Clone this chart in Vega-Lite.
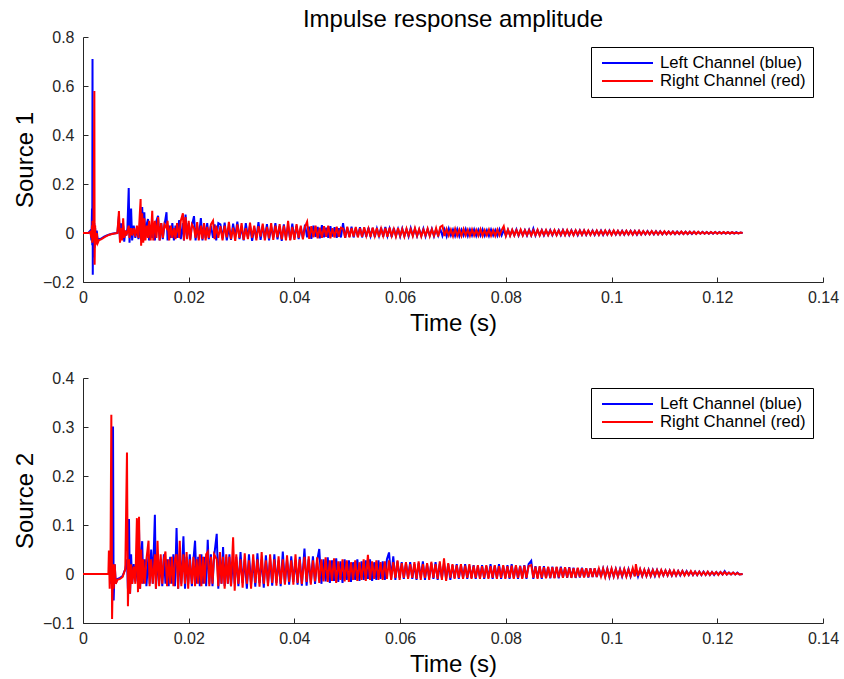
{
  "$schema": "https://vega.github.io/schema/vega-lite/v6.json",
  "background": "white",
  "padding": {"left": 13, "top": 8, "right": 5, "bottom": 5},
  "config": {
    "font": "Liberation Sans",
    "view": {"stroke": null},
    "axis": {
      "domainColor": "#262626",
      "tickColor": "#262626",
      "labelColor": "#262626",
      "titleColor": "#000000",
      "labelFontSize": 16,
      "titleFontSize": 24,
      "titleFontWeight": "normal",
      "grid": false,
      "tickSize": -5,
      "labelFlush": false,
      "format": "~g",
      "domainWidth": 1,
      "tickWidth": 1
    },
    "axisX": {"labelPadding": 12, "titlePadding": 6},
    "axisY": {"labelPadding": 14, "titlePadding": 5},
    "legend": {
      "orient": "none",
      "legendX": 508,
      "legendY": 10,
      "strokeColor": "#000000",
      "fillColor": "#ffffff",
      "padding": 7,
      "symbolType": "stroke",
      "symbolSize": 2601,
      "symbolStrokeWidth": 2,
      "symbolOffset": 3,
      "clipHeight": 18,
      "labelFontSize": 16.7,
      "labelColor": "#000000",
      "labelOffset": 6,
      "rowPadding": 0,
      "title": null
    }
  },
  "datasets": {
    "s1": [
      {"t":0,"L":0,"R":0},{"t":0.001,"L":0,"R":0},{"t":0.0014,"L":0.01,"R":0.005},{"t":0.0016,"L":-0.03,"R":-0.02},{"t":0.0017,"L":0.1,"R":0.03},{"t":0.00175,"L":-0.05,"R":-0.04},{"t":0.0018,"L":0.71,"R":0.05},{"t":0.00185,"L":-0.17,"R":0.02},{"t":0.0019,"L":0.05,"R":-0.03},{"t":0.002,"L":-0.1,"R":0.04},{"t":0.00215,"L":0.04,"R":0.58},{"t":0.0022,"L":-0.06,"R":-0.13},{"t":0.0023,"L":0.02,"R":0.03},{"t":0.0024,"L":-0.04,"R":-0.05},{"t":0.0026,"L":0.01,"R":0},{"t":0.0028,"L":-0.03,"R":-0.04},{"t":0.003,"L":-0.025,"R":-0.03},{"t":0.0035,"L":-0.022,"R":-0.025},{"t":0.004,"L":-0.015,"R":-0.018},{"t":0.0045,"L":-0.01,"R":-0.012},{"t":0.005,"L":-0.006,"R":-0.007},{"t":0.0055,"L":-0.003,"R":-0.004},{"t":0.006,"L":-0.001,"R":-0.002},{"t":0.0065,"L":0,"R":0},
      {"t":0.0068,"L":0.07,"R":0.09},{"t":0.007,"L":-0.03,"R":-0.04},{"t":0.0072,"L":0.04,"R":0.02},{"t":0.0074,"L":-0.02,"R":-0.03},{"t":0.0076,"L":0.03,"R":0.06},{"t":0.0078,"L":-0.035,"R":-0.02},{"t":0.008,"L":0.01,"R":0.01},{"t":0.0082,"L":-0.01,"R":-0.01},{"t":0.0084,"L":0.02,"R":0.005},{"t":0.00865,"L":0.184,"R":0.03},{"t":0.0088,"L":-0.04,"R":-0.02},{"t":0.0091,"L":0.1,"R":0.02},{"t":0.0093,"L":-0.03,"R":-0.01},{"t":0.0096,"L":0.03,"R":0.02},{"t":0.0099,"L":-0.02,"R":-0.015},{"t":0.0102,"L":0.02,"R":0.03},{"t":0.0105,"L":-0.025,"R":-0.02},{"t":0.0109,"L":0.03,"R":0.139},{"t":0.011,"L":-0.03,"R":-0.052},{"t":0.0112,"L":0.106,"R":0.08},{"t":0.0114,"L":-0.03,"R":-0.04},{"t":0.0116,"L":0.085,"R":0.06},{"t":0.0118,"L":-0.02,"R":-0.03},{"t":0.0121,"L":0.04,"R":0.03},{"t":0.0123,"L":0.057,"R":-0.02},{"t":0.0125,"L":-0.03,"R":0.05},{"t":0.0128,"L":0.03,"R":-0.03},{"t":0.0131,"L":-0.02,"R":0.091},{"t":0.0133,"L":0.04,"R":-0.03},{"t":0.0136,"L":-0.03,"R":0.05},{"t":0.0139,"L":0.05,"R":-0.02},{"t":0.0142,"L":0.07,"R":0.065},{"t":0.0145,"L":-0.03,"R":-0.03},{"t":0.0148,"L":0.04,"R":0.04},{"t":0.0151,"L":-0.025,"R":-0.02},{"t":0.0154,"L":0.03,"R":0.035},{"t":0.0158,"L":0.085,"R":0.02},{"t":0.016,"L":-0.03,"R":0.05},{"t":0.0163,"L":0.03,"R":-0.03},{"t":0.0166,"L":-0.02,"R":0.03},{"t":0.0169,"L":0.04,"R":-0.02},{"t":0.0172,"L":-0.03,"R":0.02},{"t":0.0175,"L":0.03,"R":-0.025},{"t":0.0178,"L":-0.02,"R":0.04},{"t":0.0182,"L":0.053,"R":-0.02},{"t":0.0185,"L":-0.025,"R":0.05},{"t":0.0189,"L":0.04,"R":0.08},{"t":0.0191,"L":-0.03,"R":-0.03},{"t":0.0194,"L":0.075,"R":0.065},{"t":0.0197,"L":-0.02,"R":-0.025},{"t":0.02,"L":0.04,"R":0.05},{"t":0.0203,"L":-0.025,"R":-0.03},{"t":0.0206,"L":0.03,"R":0.035},{"t":0.021,"L":0.069,"R":0.02},{"t":0.0213,"L":-0.03,"R":-0.02},{"t":0.0216,"L":0.03,"R":0.045},{"t":0.0219,"L":-0.02,"R":-0.03},{"t":0.0223,"L":0.061,"R":0.03},{"t":0.0226,"L":-0.03,"R":-0.025},{"t":0.0229,"L":0.035,"R":0.04},{"t":0.0232,"L":-0.02,"R":-0.03},{"t":0.0235,"L":0.04,"R":0.025},{"t":0.0238,"L":-0.025,"R":-0.02},{"t":0.0242,"L":0.03,"R":0.035},{"t":0.0246,"L":-0.02,"R":0.05},{"t":0.0249,"L":0.035,"R":-0.025},{"t":0.0252,"L":-0.03,"R":0.03},{"t":0.0256,"L":0.04,"R":-0.02},
      {"t":0.026,"L":0.035,"R":0.028},{"t":0.0264,"L":-0.022,"R":-0.03},{"t":0.0268,"L":0.042,"R":0.03},{"t":0.0272,"L":-0.03,"R":-0.018},{"t":0.0276,"L":0.02,"R":0.045},{"t":0.028,"L":-0.028,"R":-0.025},{"t":0.0284,"L":0.038,"R":0.022},{"t":0.0288,"L":-0.015,"R":-0.032},{"t":0.0292,"L":0.046,"R":0.035},{"t":0.0296,"L":-0.025,"R":-0.02},{"t":0.03,"L":0.025,"R":0.04},{"t":0.0304,"L":-0.03,"R":-0.028},{"t":0.0308,"L":0.04,"R":0.02},{"t":0.0312,"L":-0.018,"R":-0.025},{"t":0.0316,"L":0.03,"R":0.042},{"t":0.032,"L":-0.032,"R":-0.02},{"t":0.0324,"L":0.022,"R":0.03},{"t":0.0328,"L":-0.02,"R":-0.03},{"t":0.0332,"L":0.044,"R":0.028},{"t":0.0336,"L":-0.028,"R":-0.015},{"t":0.034,"L":0.03,"R":0.038},{"t":0.0344,"L":-0.02,"R":-0.03},{"t":0.0348,"L":0.036,"R":0.025},{"t":0.0352,"L":-0.03,"R":-0.022},{"t":0.0356,"L":0.025,"R":0.04},{"t":0.036,"L":-0.018,"R":-0.028},{"t":0.0364,"L":0.04,"R":0.03},{"t":0.0368,"L":-0.026,"R":-0.018},{"t":0.0372,"L":0.028,"R":0.036},{"t":0.0376,"L":-0.032,"R":-0.026},{"t":0.038,"L":0.035,"R":0.03},{"t":0.0384,"L":-0.02,"R":-0.03},{"t":0.0388,"L":0.03,"R":0.05},{"t":0.0392,"L":-0.028,"R":-0.03},{"t":0.0396,"L":0.038,"R":0.025},{"t":0.04,"L":-0.022,"R":-0.028},
      {"t":0.0404,"L":0.03,"R":0.036},{"t":0.0408,"L":-0.025,"R":-0.02},{"t":0.0412,"L":0.022,"R":0.03},{"t":0.0416,"L":-0.02,"R":-0.026},{"t":0.042,"L":0.034,"R":0.025},{"t":0.0424,"L":-0.018,"R":0.046},{"t":0.0428,"L":0.026,"R":-0.024},{"t":0.0432,"L":-0.024,"R":0.028},{"t":0.0436,"L":0.03,"R":-0.018},{"t":0.044,"L":-0.016,"R":0.03},{"t":0.0444,"L":0.025,"R":-0.022},{"t":0.0448,"L":-0.022,"R":0.022},{"t":0.0452,"L":0.032,"R":-0.02},{"t":0.0456,"L":-0.018,"R":0.028},{"t":0.046,"L":0.022,"R":-0.016},{"t":0.0464,"L":-0.02,"R":0.03},{"t":0.0468,"L":0.028,"R":-0.022},{"t":0.0472,"L":-0.015,"R":0.02},{"t":0.0476,"L":0.024,"R":-0.018},{"t":0.048,"L":-0.02,"R":0.026},{"t":0.0484,"L":0.02,"R":-0.015},{"t":0.0488,"L":-0.018,"R":0.022},{"t":0.0492,"L":0.04,"R":0.018},{"t":0.0496,"L":-0.02,"R":-0.02},{"t":0.05,"L":0.022,"R":0.026},{"t":0.0504,"L":-0.015,"R":-0.018},{"t":0.0508,"L":0.026,"R":0.02},{"t":0.0512,"L":-0.018,"R":-0.014},{"t":0.0516,"L":0.02,"R":0.025},{"t":0.052,"L":-0.014,"R":-0.018},{"t":0.0524,"L":0.024,"R":0.02},{"t":0.0528,"L":-0.018,"R":-0.015},{"t":0.0532,"L":0.018,"R":0.024},{"t":0.0536,"L":-0.015,"R":-0.012},{"t":0.054,"L":0.022,"R":0.018},{"t":0.0544,"L":-0.012,"R":-0.016},{"t":0.0548,"L":0.02,"R":0.022},{"t":0.0552,"L":-0.016,"R":-0.012},{"t":0.0556,"L":0.018,"R":0.02},{"t":0.056,"L":-0.012,"R":-0.016},{"t":0.0564,"L":0.022,"R":0.018},{"t":0.0568,"L":-0.015,"R":-0.012},{"t":0.0572,"L":0.025,"R":0.02},{"t":0.0576,"L":-0.012,"R":-0.015},{"t":0.058,"L":0.018,"R":0.022},{"t":0.0584,"L":-0.016,"R":-0.012},{"t":0.0588,"L":0.02,"R":0.016},{"t":0.0592,"L":-0.012,"R":-0.015},{"t":0.0596,"L":0.016,"R":0.02},{"t":0.06,"L":-0.014,"R":-0.012},
      {"t":0.0604,"L":0.018,"R":0.016},{"t":0.0608,"L":-0.012,"R":-0.014},{"t":0.0612,"L":0.015,"R":0.018},{"t":0.0616,"L":-0.014,"R":-0.01},{"t":0.062,"L":0.02,"R":0.015},{"t":0.0624,"L":-0.01,"R":-0.013},{"t":0.0628,"L":0.016,"R":0.02},{"t":0.0632,"L":-0.013,"R":-0.011},{"t":0.0636,"L":0.014,"R":0.016},{"t":0.064,"L":-0.011,"R":-0.014},{"t":0.0644,"L":0.018,"R":0.014},{"t":0.0648,"L":-0.014,"R":-0.01},{"t":0.0652,"L":0.015,"R":0.018},{"t":0.0656,"L":-0.01,"R":-0.013},{"t":0.066,"L":0.017,"R":0.015},{"t":0.0664,"L":-0.013,"R":-0.011},{"t":0.0668,"L":0.014,"R":0.02},{"t":0.0672,"L":-0.011,"R":-0.014},{"t":0.0676,"L":0.016,"R":0.025},{"t":0.068,"L":-0.012,"R":0.03},{"t":0.0684,"L":0.015,"R":-0.012},{"t":0.0688,"L":-0.014,"R":0.016},{"t":0.0692,"L":0.018,"R":-0.01},{"t":0.0696,"L":-0.01,"R":0.014},{"t":0.07,"L":0.014,"R":-0.013},{"t":0.0704,"L":-0.012,"R":0.017},{"t":0.0708,"L":0.016,"R":-0.011},{"t":0.0712,"L":-0.013,"R":0.014},{"t":0.0716,"L":0.013,"R":-0.012},{"t":0.072,"L":-0.01,"R":0.016},{"t":0.0724,"L":0.016,"R":-0.01},{"t":0.0728,"L":-0.012,"R":0.013},{"t":0.0732,"L":0.014,"R":-0.012},{"t":0.0736,"L":-0.01,"R":0.015},{"t":0.074,"L":0.015,"R":-0.01},{"t":0.0744,"L":-0.012,"R":0.013},{"t":0.0748,"L":0.013,"R":-0.011},{"t":0.0752,"L":-0.01,"R":0.015},{"t":0.0756,"L":0.015,"R":-0.012},{"t":0.076,"L":-0.011,"R":0.012},{"t":0.0764,"L":0.012,"R":-0.01},{"t":0.0768,"L":-0.012,"R":0.014},{"t":0.0772,"L":0.014,"R":-0.011},{"t":0.0776,"L":-0.01,"R":0.012},{"t":0.078,"L":0.012,"R":-0.012},{"t":0.0784,"L":-0.011,"R":0.014},{"t":0.0788,"L":0.015,"R":-0.01},{"t":0.0792,"L":-0.01,"R":0.012},{"t":0.0796,"L":0.012,"R":0.028},{"t":0.08,"L":-0.011,"R":-0.012},
      {"t":0.0804,"L":0.013,"R":0.014},{"t":0.0808,"L":-0.01,"R":-0.011},{"t":0.0812,"L":0.012,"R":0.013},{"t":0.0816,"L":-0.009,"R":-0.01},{"t":0.082,"L":0.014,"R":0.012},{"t":0.0824,"L":-0.011,"R":-0.009},{"t":0.0828,"L":0.011,"R":0.014},{"t":0.0832,"L":-0.009,"R":-0.01},{"t":0.0836,"L":0.012,"R":0.011},{"t":0.084,"L":-0.01,"R":-0.009},{"t":0.0844,"L":0.013,"R":0.012},{"t":0.0848,"L":-0.009,"R":-0.01},{"t":0.0852,"L":0.018,"R":0.011},{"t":0.0856,"L":-0.01,"R":-0.009},{"t":0.086,"L":0.011,"R":0.013},{"t":0.0864,"L":-0.008,"R":-0.01},{"t":0.0868,"L":0.012,"R":0.011},{"t":0.0872,"L":-0.01,"R":-0.008},{"t":0.0876,"L":0.01,"R":0.012},{"t":0.088,"L":-0.008,"R":-0.009},{"t":0.0884,"L":0.012,"R":0.01},{"t":0.0888,"L":-0.009,"R":-0.008},{"t":0.0892,"L":0.01,"R":0.012},{"t":0.0896,"L":-0.008,"R":-0.009},{"t":0.09,"L":0.011,"R":0.01},{"t":0.0904,"L":-0.009,"R":-0.008},{"t":0.0908,"L":0.012,"R":0.011},{"t":0.0912,"L":-0.008,"R":-0.009},{"t":0.0916,"L":0.01,"R":0.012},{"t":0.092,"L":-0.009,"R":-0.008},{"t":0.0924,"L":0.011,"R":0.01},{"t":0.0928,"L":-0.008,"R":-0.009},{"t":0.0932,"L":0.01,"R":0.011},{"t":0.0936,"L":-0.009,"R":-0.007},{"t":0.094,"L":0.011,"R":0.01},{"t":0.0944,"L":-0.007,"R":-0.008},{"t":0.0948,"L":0.01,"R":0.011},{"t":0.0952,"L":-0.008,"R":-0.007},{"t":0.0956,"L":0.009,"R":0.01},{"t":0.096,"L":-0.007,"R":-0.008},{"t":0.0964,"L":0.01,"R":0.009},{"t":0.0968,"L":-0.008,"R":-0.007},{"t":0.0972,"L":0.009,"R":0.01},{"t":0.0976,"L":-0.007,"R":-0.008},{"t":0.098,"L":0.01,"R":0.009},{"t":0.0984,"L":-0.008,"R":-0.007},{"t":0.0988,"L":0.009,"R":0.01},{"t":0.0992,"L":-0.007,"R":-0.007},{"t":0.0996,"L":0.01,"R":0.009},{"t":0.1,"L":-0.007,"R":-0.008},
      {"t":0.1004,"L":0.009,"R":0.01},{"t":0.1008,"L":-0.007,"R":-0.006},{"t":0.1012,"L":0.008,"R":0.009},{"t":0.1016,"L":-0.006,"R":-0.007},{"t":0.102,"L":0.009,"R":0.008},{"t":0.1024,"L":-0.007,"R":-0.006},{"t":0.1028,"L":0.008,"R":0.009},{"t":0.1032,"L":-0.006,"R":-0.006},{"t":0.1036,"L":0.009,"R":0.008},{"t":0.104,"L":-0.006,"R":-0.007},{"t":0.1044,"L":0.008,"R":0.008},{"t":0.1048,"L":-0.007,"R":-0.006},{"t":0.1052,"L":0.008,"R":0.009},{"t":0.1056,"L":-0.006,"R":-0.006},{"t":0.106,"L":0.007,"R":0.008},{"t":0.1064,"L":-0.006,"R":-0.005},{"t":0.1068,"L":0.008,"R":0.007},{"t":0.1072,"L":-0.005,"R":-0.006},{"t":0.1076,"L":0.007,"R":0.008},{"t":0.108,"L":-0.006,"R":-0.005},{"t":0.1084,"L":0.007,"R":0.007},{"t":0.1088,"L":-0.005,"R":-0.006},{"t":0.1092,"L":0.007,"R":0.006},{"t":0.1096,"L":-0.005,"R":-0.005},{"t":0.11,"L":0.006,"R":0.007},{"t":0.1104,"L":-0.005,"R":-0.005},{"t":0.1108,"L":0.006,"R":0.006},{"t":0.1112,"L":-0.004,"R":-0.005},{"t":0.1116,"L":0.006,"R":0.006},{"t":0.112,"L":-0.005,"R":-0.004},{"t":0.1124,"L":0.006,"R":0.005},{"t":0.1128,"L":-0.004,"R":-0.004},{"t":0.1132,"L":0.005,"R":0.006},{"t":0.1136,"L":-0.004,"R":-0.004},{"t":0.114,"L":0.005,"R":0.005},{"t":0.1144,"L":-0.004,"R":-0.004},{"t":0.1148,"L":0.005,"R":0.005},{"t":0.1152,"L":-0.004,"R":-0.003},{"t":0.1156,"L":0.005,"R":0.005},{"t":0.116,"L":-0.003,"R":-0.004},{"t":0.1164,"L":0.004,"R":0.005},{"t":0.1168,"L":-0.003,"R":-0.003},{"t":0.1172,"L":0.005,"R":0.004},{"t":0.1176,"L":-0.003,"R":-0.003},{"t":0.118,"L":0.004,"R":0.004},{"t":0.1184,"L":-0.003,"R":-0.003},{"t":0.1188,"L":0.004,"R":0.004},{"t":0.1192,"L":-0.003,"R":-0.002},{"t":0.1196,"L":0.004,"R":0.004},{"t":0.12,"L":-0.002,"R":-0.003},{"t":0.1204,"L":0.004,"R":0.003},{"t":0.1208,"L":-0.002,"R":-0.002},{"t":0.1212,"L":0.003,"R":0.004},{"t":0.1216,"L":-0.002,"R":-0.002},{"t":0.122,"L":0.003,"R":0.003},{"t":0.1224,"L":-0.002,"R":-0.002},{"t":0.1228,"L":0.003,"R":0.003},{"t":0.1232,"L":-0.002,"R":-0.002},{"t":0.1236,"L":0.003,"R":0.002},{"t":0.124,"L":-0.002,"R":-0.002},{"t":0.1244,"L":0.002,"R":0.002},{"t":0.1248,"L":0,"R":0}
    ],
    "s2": [
      {"t":0,"L":0,"R":0},{"t":0.0048,"L":0,"R":0},{"t":0.0049,"L":0,"R":0.048},{"t":0.00505,"L":0.01,"R":-0.03},{"t":0.0052,"L":-0.02,"R":0.03},{"t":0.00536,"L":0.02,"R":0.325},{"t":0.0055,"L":-0.03,"R":-0.092},{"t":0.00568,"L":0.301,"R":0.02},{"t":0.0058,"L":-0.054,"R":-0.03},{"t":0.006,"L":0.02,"R":0.02},{"t":0.0062,"L":-0.02,"R":-0.02},{"t":0.0065,"L":-0.01,"R":-0.012},{"t":0.007,"L":-0.008,"R":-0.01},{"t":0.0075,"L":-0.004,"R":-0.006},{"t":0.008,"L":0.01,"R":0.01},{"t":0.00832,"L":0.03,"R":0.248},{"t":0.0085,"L":-0.03,"R":-0.066},{"t":0.0087,"L":0.112,"R":0.03},{"t":0.0089,"L":-0.04,"R":-0.04},{"t":0.0091,"L":0.04,"R":0.02},{"t":0.0093,"L":-0.02,"R":-0.02},{"t":0.0096,"L":0.02,"R":0.015},{"t":0.0099,"L":-0.015,"R":-0.02},{"t":0.0102,"L":0.03,"R":0.114},{"t":0.0104,"L":-0.02,"R":-0.037},{"t":0.0106,"L":0.09,"R":0.117},{"t":0.0108,"L":-0.03,"R":-0.03},{"t":0.011,"L":0.04,"R":0.05},{"t":0.0112,"L":0.067,"R":-0.02},{"t":0.0114,"L":-0.02,"R":0.03},{"t":0.0117,"L":0.03,"R":-0.02},{"t":0.012,"L":-0.025,"R":0.03},{"t":0.0124,"L":0.04,"R":0.068},{"t":0.0126,"L":-0.02,"R":-0.025},{"t":0.0129,"L":0.05,"R":0.03},{"t":0.0132,"L":-0.02,"R":-0.02},{"t":0.0136,"L":0.121,"R":0.04},{"t":0.0138,"L":-0.03,"R":-0.03},{"t":0.0141,"L":0.04,"R":0.068},{"t":0.0144,"L":-0.02,"R":-0.025},{"t":0.0147,"L":0.03,"R":0.04},{"t":0.015,"L":-0.025,"R":-0.02},{"t":0.0153,"L":0.04,"R":0.03},{"t":0.0156,"L":-0.02,"R":0.046},{"t":0.0159,"L":0.03,"R":-0.025},{"t":0.0162,"L":-0.025,"R":0.03},{"t":0.0165,"L":0.035,"R":-0.02},{"t":0.0168,"L":-0.02,"R":0.035},{"t":0.0171,"L":0.04,"R":-0.025},{"t":0.0174,"L":-0.025,"R":0.03},{"t":0.0177,"L":0.094,"R":0.04},{"t":0.018,"L":-0.03,"R":-0.03},{"t":0.0183,"L":0.04,"R":0.068},{"t":0.0186,"L":-0.02,"R":-0.025},{"t":0.019,"L":0.077,"R":0.04},{"t":0.0193,"L":-0.03,"R":-0.02},{"t":0.0196,"L":0.035,"R":0.045},{"t":0.0199,"L":-0.02,"R":-0.03},{"t":0.0202,"L":0.04,"R":0.03},{"t":0.0206,"L":-0.025,"R":-0.02},{"t":0.0209,"L":0.03,"R":0.035},{"t":0.0212,"L":0.068,"R":-0.025},{"t":0.0215,"L":-0.02,"R":0.03},{"t":0.0218,"L":0.035,"R":-0.02},{"t":0.0221,"L":-0.025,"R":0.04},{"t":0.0224,"L":0.04,"R":-0.025},{"t":0.0227,"L":-0.02,"R":0.035},{"t":0.023,"L":0.035,"R":-0.02},{"t":0.0233,"L":-0.025,"R":0.04},{"t":0.0236,"L":0.07,"R":0.045},{"t":0.0239,"L":-0.02,"R":-0.025},{"t":0.0242,"L":0.04,"R":0.035},{"t":0.0245,"L":-0.025,"R":-0.02},{"t":0.0248,"L":0.035,"R":0.04},{"t":0.0253,"L":0.082,"R":0.03},{"t":0.0256,"L":-0.03,"R":-0.025},{"t":0.0259,"L":0.04,"R":0.045},{"t":0.0262,"L":-0.02,"R":-0.02},{"t":0.0265,"L":0.055,"R":0.035},{"t":0.0268,"L":-0.025,"R":-0.03},{"t":0.0271,"L":0.035,"R":0.04},{"t":0.0274,"L":-0.02,"R":-0.02},{"t":0.0277,"L":0.04,"R":0.035},{"t":0.028,"L":-0.025,"R":-0.025},{"t":0.0284,"L":0.03,"R":0.075},{"t":0.0287,"L":-0.02,"R":-0.034},
      {"t":0.029,"L":0.035,"R":0.04},{"t":0.0294,"L":-0.025,"R":-0.02},{"t":0.0298,"L":0.045,"R":0.03},{"t":0.0302,"L":-0.018,"R":-0.028},{"t":0.0306,"L":0.03,"R":0.042},{"t":0.031,"L":-0.03,"R":-0.02},{"t":0.0314,"L":0.04,"R":0.028},{"t":0.0318,"L":-0.02,"R":-0.03},{"t":0.0322,"L":0.028,"R":0.04},{"t":0.0326,"L":-0.026,"R":-0.018},{"t":0.033,"L":0.042,"R":0.03},{"t":0.0334,"L":-0.018,"R":-0.026},{"t":0.0338,"L":0.03,"R":0.045},{"t":0.0342,"L":-0.028,"R":-0.02},{"t":0.0346,"L":0.038,"R":0.028},{"t":0.035,"L":-0.02,"R":-0.025},{"t":0.0354,"L":0.03,"R":0.04},{"t":0.0358,"L":-0.024,"R":-0.018},{"t":0.0362,"L":0.04,"R":0.03},{"t":0.0366,"L":-0.018,"R":-0.024},{"t":0.037,"L":0.028,"R":0.036},{"t":0.0374,"L":-0.025,"R":-0.02},{"t":0.0378,"L":0.046,"R":0.03},{"t":0.0382,"L":-0.02,"R":-0.022},{"t":0.0386,"L":0.03,"R":0.038},{"t":0.039,"L":-0.022,"R":-0.016},{"t":0.0394,"L":0.036,"R":0.028},{"t":0.0398,"L":-0.016,"R":-0.022},{"t":0.0402,"L":0.028,"R":0.04},{"t":0.0406,"L":-0.022,"R":-0.018},{"t":0.041,"L":0.035,"R":0.03},{"t":0.0414,"L":-0.024,"R":-0.02},{"t":0.0419,"L":0.052,"R":0.035},{"t":0.0423,"L":-0.024,"R":-0.016},{"t":0.0427,"L":0.03,"R":0.036},{"t":0.0431,"L":-0.018,"R":-0.022},{"t":0.0435,"L":0.036,"R":0.028},{"t":0.0439,"L":-0.02,"R":-0.015},{"t":0.0443,"L":0.028,"R":0.034},{"t":0.0447,"L":0.051,"R":-0.018},{"t":0.0451,"L":-0.02,"R":0.03},{"t":0.0455,"L":0.03,"R":-0.015},{"t":0.0459,"L":-0.015,"R":0.034},{"t":0.0463,"L":0.034,"R":-0.016},{"t":0.0467,"L":-0.018,"R":0.028},{"t":0.0471,"L":0.028,"R":-0.014},{"t":0.0475,"L":-0.014,"R":0.032},{"t":0.0479,"L":0.032,"R":-0.018},{"t":0.0483,"L":-0.016,"R":0.026},{"t":0.0487,"L":0.026,"R":-0.012},{"t":0.0491,"L":-0.018,"R":0.03},{"t":0.0495,"L":0.03,"R":-0.015},{"t":0.0499,"L":-0.012,"R":0.028},{"t":0.0503,"L":0.028,"R":-0.016},{"t":0.0507,"L":-0.016,"R":0.024},{"t":0.0511,"L":0.024,"R":-0.012},{"t":0.0515,"L":-0.012,"R":0.028},{"t":0.0519,"L":0.03,"R":-0.014},{"t":0.0523,"L":-0.014,"R":0.024},{"t":0.0527,"L":0.026,"R":-0.012},{"t":0.0531,"L":-0.012,"R":0.03},{"t":0.0535,"L":0.028,"R":-0.014},{"t":0.0539,"L":-0.01,"R":0.039},{"t":0.0543,"L":0.03,"R":-0.012},{"t":0.0547,"L":-0.014,"R":0.026},{"t":0.0551,"L":0.024,"R":-0.01},{"t":0.0555,"L":-0.012,"R":0.028},{"t":0.0559,"L":0.028,"R":-0.012},{"t":0.0563,"L":-0.01,"R":0.024},{"t":0.0567,"L":0.026,"R":-0.012},{"t":0.0571,"L":-0.012,"R":0.026},{"t":0.0575,"L":0.03,"R":-0.01},{"t":0.0579,"L":0.044,"R":0.028},{"t":0.0583,"L":-0.01,"R":-0.012},{"t":0.0587,"L":0.036,"R":0.024},{"t":0.0591,"L":-0.012,"R":-0.008},{"t":0.0595,"L":0.026,"R":0.028},{"t":0.0599,"L":-0.008,"R":-0.012},
      {"t":0.0603,"L":0.024,"R":0.022},{"t":0.0607,"L":-0.01,"R":-0.008},{"t":0.0611,"L":0.022,"R":0.024},{"t":0.0615,"L":-0.008,"R":-0.01},{"t":0.0619,"L":0.024,"R":0.02},{"t":0.0623,"L":-0.01,"R":-0.008},{"t":0.0627,"L":0.02,"R":0.024},{"t":0.0631,"L":-0.012,"R":-0.01},{"t":0.0635,"L":0.022,"R":0.026},{"t":0.0639,"L":-0.008,"R":-0.012},{"t":0.0643,"L":0.026,"R":0.02},{"t":0.0647,"L":-0.012,"R":-0.008},{"t":0.0651,"L":0.02,"R":0.022},{"t":0.0655,"L":-0.008,"R":-0.012},{"t":0.0659,"L":0.022,"R":0.025},{"t":0.0663,"L":-0.01,"R":-0.008},{"t":0.0667,"L":0.024,"R":0.02},{"t":0.0671,"L":-0.012,"R":-0.01},{"t":0.0675,"L":0.02,"R":0.026},{"t":0.0679,"L":-0.008,"R":-0.012},{"t":0.0683,"L":0.022,"R":0.032},{"t":0.0687,"L":-0.01,"R":-0.014},{"t":0.0691,"L":0.02,"R":0.022},{"t":0.0695,"L":-0.012,"R":-0.008},{"t":0.0699,"L":0.018,"R":0.02},{"t":0.0703,"L":-0.008,"R":-0.01},{"t":0.0707,"L":0.02,"R":0.018},{"t":0.0711,"L":-0.01,"R":-0.008},{"t":0.0715,"L":0.018,"R":0.02},{"t":0.0719,"L":-0.008,"R":-0.01},{"t":0.0723,"L":0.02,"R":0.017},{"t":0.0727,"L":-0.01,"R":-0.008},{"t":0.0731,"L":0.017,"R":0.02},{"t":0.0735,"L":-0.008,"R":-0.01},{"t":0.0739,"L":0.018,"R":0.017},{"t":0.0743,"L":-0.01,"R":-0.008},{"t":0.0747,"L":0.016,"R":0.018},{"t":0.0751,"L":-0.008,"R":-0.01},{"t":0.0755,"L":0.018,"R":0.016},{"t":0.0759,"L":-0.01,"R":-0.008},{"t":0.0763,"L":0.016,"R":0.018},{"t":0.0767,"L":-0.008,"R":-0.01},{"t":0.0771,"L":0.02,"R":0.016},{"t":0.0775,"L":-0.01,"R":-0.008},{"t":0.0779,"L":0.017,"R":0.018},{"t":0.0783,"L":-0.008,"R":-0.01},{"t":0.0787,"L":0.02,"R":0.016},{"t":0.0791,"L":-0.01,"R":-0.008},{"t":0.0795,"L":0.016,"R":0.018},{"t":0.0799,"L":-0.008,"R":-0.01},
      {"t":0.0803,"L":0.018,"R":0.016},{"t":0.0807,"L":-0.01,"R":-0.008},{"t":0.0811,"L":0.02,"R":0.017},{"t":0.0815,"L":-0.008,"R":-0.01},{"t":0.0819,"L":0.016,"R":0.018},{"t":0.0823,"L":-0.01,"R":-0.008},{"t":0.0827,"L":0.017,"R":0.016},{"t":0.0831,"L":-0.008,"R":-0.01},{"t":0.0835,"L":0.018,"R":0.017},{"t":0.0839,"L":-0.01,"R":-0.008},{"t":0.0843,"L":0.02,"R":0.016},{"t":0.0848,"L":0.027,"R":0.018},{"t":0.0852,"L":-0.01,"R":-0.008},{"t":0.0856,"L":0.016,"R":0.015},{"t":0.086,"L":-0.008,"R":-0.01},{"t":0.0864,"L":0.015,"R":0.016},{"t":0.0868,"L":-0.01,"R":-0.008},{"t":0.0872,"L":0.016,"R":0.014},{"t":0.0876,"L":-0.008,"R":-0.009},{"t":0.088,"L":0.014,"R":0.015},{"t":0.0884,"L":-0.009,"R":-0.008},{"t":0.0888,"L":0.015,"R":0.014},{"t":0.0892,"L":-0.008,"R":-0.009},{"t":0.0896,"L":0.014,"R":0.015},{"t":0.09,"L":-0.009,"R":-0.007},{"t":0.0904,"L":0.015,"R":0.013},{"t":0.0908,"L":-0.007,"R":-0.008},{"t":0.0912,"L":0.013,"R":0.014},{"t":0.0916,"L":-0.008,"R":-0.007},{"t":0.092,"L":0.014,"R":0.013},{"t":0.0924,"L":-0.007,"R":-0.008},{"t":0.0928,"L":0.013,"R":0.012},{"t":0.0932,"L":-0.008,"R":-0.007},{"t":0.0936,"L":0.012,"R":0.013},{"t":0.094,"L":-0.007,"R":-0.006},{"t":0.0944,"L":0.013,"R":0.012},{"t":0.0948,"L":-0.006,"R":-0.007},{"t":0.0952,"L":0.012,"R":0.012},{"t":0.0956,"L":-0.007,"R":-0.006},{"t":0.096,"L":0.012,"R":0.011},{"t":0.0964,"L":-0.006,"R":-0.006},{"t":0.0968,"L":0.011,"R":0.012},{"t":0.0972,"L":-0.006,"R":-0.006},{"t":0.0976,"L":0.012,"R":0.011},{"t":0.098,"L":-0.006,"R":-0.005},{"t":0.0984,"L":0.011,"R":0.011},{"t":0.0988,"L":-0.005,"R":-0.006},{"t":0.0992,"L":0.011,"R":0.01},{"t":0.0996,"L":-0.006,"R":-0.005},
      {"t":0.1,"L":0.01,"R":0.011},{"t":0.1004,"L":-0.005,"R":-0.005},{"t":0.1008,"L":0.01,"R":0.01},{"t":0.1012,"L":-0.005,"R":-0.005},{"t":0.1016,"L":0.01,"R":0.009},{"t":0.102,"L":-0.005,"R":-0.004},{"t":0.1024,"L":0.009,"R":0.01},{"t":0.1028,"L":-0.004,"R":-0.005},{"t":0.1032,"L":0.01,"R":0.009},{"t":0.1036,"L":-0.005,"R":-0.004},{"t":0.104,"L":0.009,"R":0.012},{"t":0.1044,"L":-0.004,"R":-0.005},{"t":0.1046,"L":0.01,"R":0.02},{"t":0.105,"L":-0.005,"R":-0.004},{"t":0.1054,"L":0.009,"R":0.01},{"t":0.1058,"L":-0.004,"R":-0.004},{"t":0.1062,"L":0.008,"R":0.009},{"t":0.1066,"L":-0.004,"R":-0.004},{"t":0.107,"L":0.009,"R":0.008},{"t":0.1074,"L":-0.004,"R":-0.004},{"t":0.1078,"L":0.008,"R":0.008},{"t":0.1082,"L":-0.004,"R":-0.003},{"t":0.1086,"L":0.008,"R":0.008},{"t":0.109,"L":-0.003,"R":-0.004},{"t":0.1094,"L":0.007,"R":0.008},{"t":0.1098,"L":-0.003,"R":-0.003},{"t":0.1102,"L":0.007,"R":0.007},{"t":0.1106,"L":-0.003,"R":-0.003},{"t":0.111,"L":0.007,"R":0.007},{"t":0.1114,"L":-0.003,"R":-0.003},{"t":0.1118,"L":0.006,"R":0.007},{"t":0.1122,"L":-0.003,"R":-0.003},{"t":0.1126,"L":0.006,"R":0.006},{"t":0.113,"L":-0.003,"R":-0.002},{"t":0.1134,"L":0.006,"R":0.006},{"t":0.1138,"L":-0.002,"R":-0.003},{"t":0.1142,"L":0.006,"R":0.005},{"t":0.1146,"L":-0.002,"R":-0.002},{"t":0.115,"L":0.005,"R":0.006},{"t":0.1154,"L":-0.002,"R":-0.002},{"t":0.1158,"L":0.005,"R":0.005},{"t":0.1162,"L":-0.002,"R":-0.002},{"t":0.1166,"L":0.005,"R":0.005},{"t":0.117,"L":-0.002,"R":-0.002},{"t":0.1174,"L":0.005,"R":0.004},{"t":0.1178,"L":-0.002,"R":-0.002},{"t":0.1182,"L":0.004,"R":0.005},{"t":0.1186,"L":-0.002,"R":-0.002},{"t":0.119,"L":0.004,"R":0.004},{"t":0.1194,"L":-0.002,"R":-0.001},{"t":0.1198,"L":0.004,"R":0.004},{"t":0.1202,"L":-0.001,"R":-0.002},{"t":0.1206,"L":0.004,"R":0.004},{"t":0.121,"L":-0.001,"R":-0.001},{"t":0.1214,"L":0.006,"R":0.004},{"t":0.1218,"L":-0.001,"R":-0.001},{"t":0.1222,"L":0.003,"R":0.003},{"t":0.1226,"L":-0.001,"R":-0.001},{"t":0.123,"L":0.003,"R":0.003},{"t":0.1234,"L":-0.001,"R":-0.001},{"t":0.1238,"L":0.003,"R":0.002},{"t":0.1242,"L":-0.001,"R":-0.001},{"t":0.1248,"L":0,"R":0}
    ]
  },
  "bounds": "flush",
  "spacing": 96,
  "resolve": {"scale": {"color": "independent"}, "legend": {"color": "independent"}},
  "vconcat": [
    {
      "width": 740,
      "height": 245,
      "title": {"text": "Impulse response amplitude", "fontSize": 24, "fontWeight": "normal", "color": "#000000", "anchor": "middle", "frame": "group", "offset": -3},
      "data": {"name": "s1"},
      "layer": [
        {
          "mark": {"type": "line", "strokeWidth": 2, "clip": true},
          "encoding": {
            "x": {"field": "t", "type": "quantitative", "scale": {"domain": [0, 0.14], "nice": false, "zero": false}, "axis": {"title": "Time (s)", "values": [0, 0.02, 0.04, 0.06, 0.08, 0.1, 0.12, 0.14]}},
            "y": {"field": "L", "type": "quantitative", "scale": {"domain": [-0.2, 0.8], "nice": false}, "axis": {"title": "Source 1", "values": [-0.2, 0, 0.2, 0.4, 0.6, 0.8]}},
            "color": {"datum": "Left Channel (blue)", "type": "nominal", "scale": {"domain": ["Left Channel (blue)", "Right Channel (red)"], "range": ["#0000ff", "#ff0000"]}}
          }
        },
        {
          "mark": {"type": "line", "strokeWidth": 2, "clip": true},
          "encoding": {
            "x": {"field": "t", "type": "quantitative"},
            "y": {"field": "R", "type": "quantitative"},
            "color": {"datum": "Right Channel (red)", "type": "nominal"}
          }
        }
      ]
    },
    {
      "width": 740,
      "height": 245,
      "data": {"name": "s2"},
      "layer": [
        {
          "mark": {"type": "line", "strokeWidth": 2, "clip": true},
          "encoding": {
            "x": {"field": "t", "type": "quantitative", "scale": {"domain": [0, 0.14], "nice": false, "zero": false}, "axis": {"title": "Time (s)", "values": [0, 0.02, 0.04, 0.06, 0.08, 0.1, 0.12, 0.14]}},
            "y": {"field": "L", "type": "quantitative", "scale": {"domain": [-0.1, 0.4], "nice": false}, "axis": {"title": "Source 2", "values": [-0.1, 0, 0.1, 0.2, 0.3, 0.4]}},
            "color": {"datum": "Left Channel (blue)", "type": "nominal", "scale": {"domain": ["Left Channel (blue)", "Right Channel (red)"], "range": ["#0000ff", "#ff0000"]}}
          }
        },
        {
          "mark": {"type": "line", "strokeWidth": 2, "clip": true},
          "encoding": {
            "x": {"field": "t", "type": "quantitative"},
            "y": {"field": "R", "type": "quantitative"},
            "color": {"datum": "Right Channel (red)", "type": "nominal"}
          }
        }
      ]
    }
  ]
}
